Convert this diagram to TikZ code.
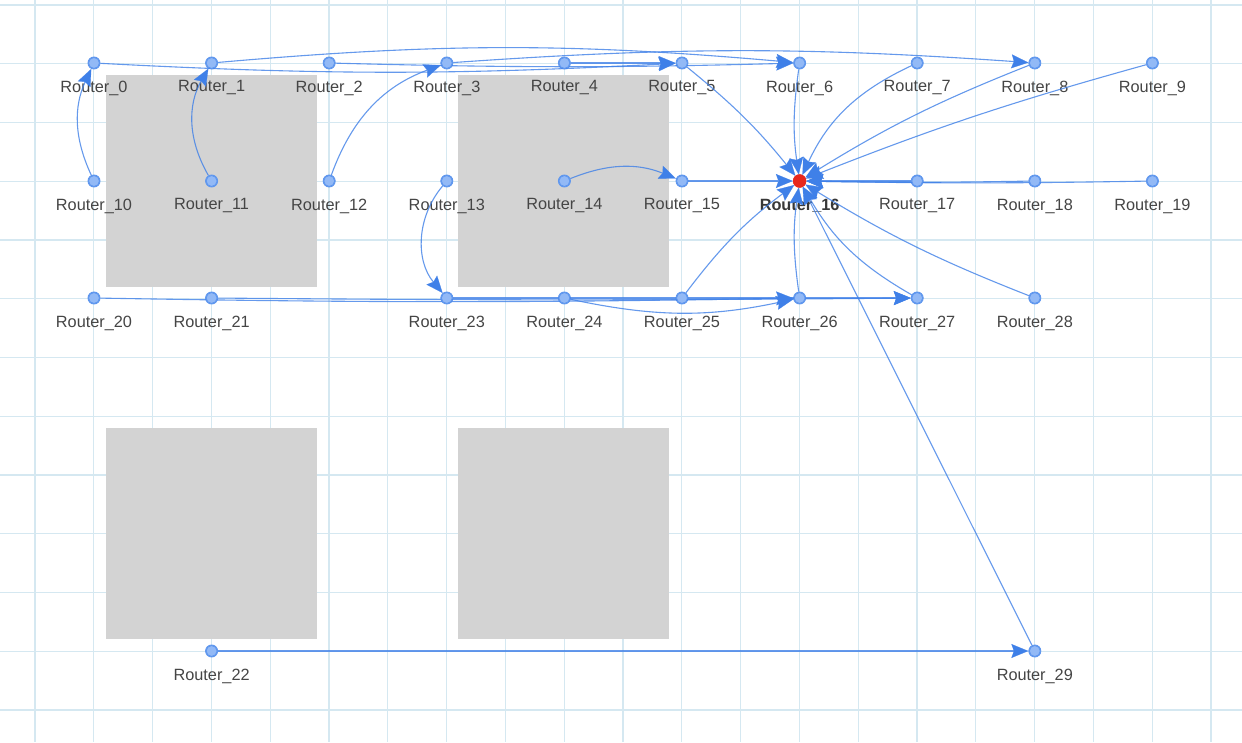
\documentclass[tikz,border=0pt]{standalone}
\usepackage{fontspec}
\setmainfont{Liberation Sans}
\usetikzlibrary{arrows.meta}
\definecolor{gridc}{HTML}{D5E8F1}
\definecolor{boxc}{HTML}{D3D3D3}
\definecolor{edgec}{HTML}{3F80E8}
\definecolor{nfill}{HTML}{92B9F6}
\definecolor{ndraw}{HTML}{5E96EE}
\definecolor{hubc}{HTML}{E8281C}
\definecolor{txtc}{HTML}{454545}
\tikzset{
  rnode/.style={circle,minimum size=12pt,inner sep=0pt,fill=nfill,draw=ndraw,line width=0.9pt},
  hub/.style={circle,minimum size=13pt,inner sep=0pt,fill=hubc,draw=hubc},
  lbl/.style={font=\fontsize{16.3}{18}\selectfont,text=txtc,inner sep=0pt,label distance=11pt},
  hublbl/.style={font=\fontsize{16.3}{18}\selectfont\bfseries,text=txtc!80!black,inner sep=0pt,label distance=11pt},
  link/.style={draw=edgec,draw opacity=0.8,line width=1.1pt,-{Stealth[length=17pt,width=14pt,inset=2.5pt,fill=edgec,line width=0.3pt]}},
  gridline/.style={draw=gridc,line width=1.3pt},
  block/.style={fill=boxc,draw=none}
}
\begin{document}
\begin{tikzpicture}[x=1pt,y=1pt]
\useasboundingbox (0,0) rectangle (1242,742);
\fill[white] (0,0) rectangle (1242,742);
% grid
\foreach \k in {0,...,20} {\draw[gridline] ({35+58.8*\k},0) -- ({35+58.8*\k},742);}
\foreach \k in {0,...,12} {\draw[gridline] (0,{737-58.75*\k}) -- (1242,{737-58.75*\k});}
% blocks
\fill[block] (106,455) rectangle (317,667);
\fill[block] (458,455) rectangle (669,667);
\fill[block] (106,103) rectangle (317,314);
\fill[block] (458,103) rectangle (669,314);
% nodes row 0
\foreach \i in {0,...,9} {
  \node[rnode,label={[lbl]below:Router\_\i}] (n\i) at ({94+117.6*\i},679) {};
}
% row 1
\foreach \i in {0,...,9} {
  \pgfmathtruncatemacro{\id}{10+\i}
  \ifnum\id=16
    \node[hub,label={[hublbl]below:Router\_\id}] (n\id) at ({94+117.6*\i},561) {};
  \else
    \node[rnode,label={[lbl]below:Router\_\id}] (n\id) at ({94+117.6*\i},561) {};
  \fi
}
% row 2
\node[rnode,label={[lbl]below:Router\_20}] (n20) at (94,444) {};
\node[rnode,label={[lbl]below:Router\_21}] (n21) at (211.6,444) {};
\node[rnode,label={[lbl]below:Router\_23}] (n23) at (446.8,444) {};
\node[rnode,label={[lbl]below:Router\_24}] (n24) at (564.4,444) {};
\node[rnode,label={[lbl]below:Router\_25}] (n25) at (682,444) {};
\node[rnode,label={[lbl]below:Router\_26}] (n26) at (799.6,444) {};
\node[rnode,label={[lbl]below:Router\_27}] (n27) at (917.2,444) {};
\node[rnode,label={[lbl]below:Router\_28}] (n28) at (1034.8,444) {};
% row 3
\node[rnode,label={[lbl]below:Router\_22}] (n22) at (211.6,91) {};
\node[rnode,label={[lbl]below:Router\_29}] (n29) at (1034.8,91) {};
% edges
\draw[link] (n10) to[bend left=25] (n0);
\draw[link] (n11) to[bend left=30] (n1);
\draw[link] (n12) to[bend left=25] (n3);
\draw[link] (n13) to[bend right=40] (n23);
\draw[link] (n14) to[bend left=22] (n15);
\draw[link] (n24) to[bend right=12] (n26);
\draw[link] (n0) to[bend right=3] (n5);
\draw[link] (n1) to[bend left=5] (n6);
\draw[link] (n2) to[bend right=1.5] (n6);
\draw[link] (n3) to[bend left=4] (n8);
\draw[link] (n4) to (n5);
\draw[link] (n5) to[bend left=6] (n16);
\draw[link] (n6) to[bend right=8] (n16);
\draw[link] (n7) to[bend right=20] (n16);
\draw[link] (n8) to[bend right=5] (n16);
\draw[link] (n9) to[bend right=3] (n16);
\draw[link] (n15) to (n16);
\draw[link] (n17) to (n16);
\draw[link] (n18) to[bend left=1] (n16);
\draw[link] (n19) to[bend left=1] (n16);
\draw[link] (n25) to[bend left=8] (n16);
\draw[link] (n26) to[bend left=8] (n16);
\draw[link] (n27) to[bend left=15] (n16);
\draw[link] (n28) to[bend left=5] (n16);
\draw[link] (n29) to (n16);
\draw[link] (n20) to[bend right=1] (n26);
\draw[link] (n21) to[bend right=0.5] (n27);
\draw[link] (n23) to (n27);
\draw[link] (n22) to (n29);
% redraw node discs on top of connectors
\foreach \n in {0,...,15,17,18,19,20,21,22,23,24,25,26,27,28,29} {
  \fill[nfill] (n\n.center) circle (5.5pt);
  \draw[ndraw,line width=0.9pt] (n\n.center) circle (5.5pt);
}
\fill[hubc] (n16.center) circle (6.5pt);
\end{tikzpicture}
\end{document}
